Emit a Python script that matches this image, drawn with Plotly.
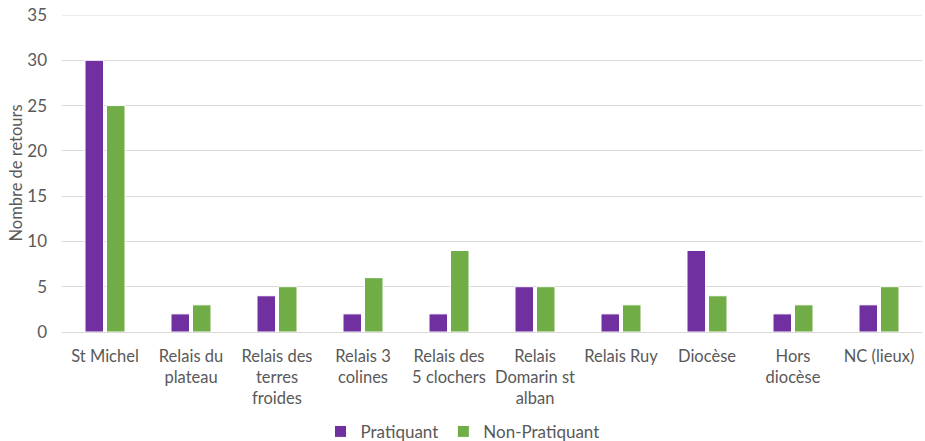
import plotly.graph_objects as go

categories = ["St Michel", "Relais du<br>plateau", "Relais des<br>terres<br>froides", "Relais 3<br>colines",
              "Relais des<br>5 clochers", "Relais<br>Domarin st<br>alban", "Relais Ruy", "Diocèse",
              "Hors<br>diocèse", "NC (lieux)"]
pratiquant = [30, 2, 4, 2, 2, 5, 2, 9, 2, 3]
non_pratiquant = [25, 3, 5, 6, 9, 5, 3, 4, 3, 5]
y_ticks = [0, 5, 10, 15, 20, 25, 30, 35]

font_family = "Lato, Open Sans, sans-serif"
grey = "#595959"
grid = "#d9d9d9"

W, H = 925, 441
L, R, T, B = 62, 3, 15, 109
plot_w = W - L - R

fig = go.Figure()
fig.add_trace(go.Bar(name="Pratiquant", x=categories, y=pratiquant,
                     marker=dict(color="#7030A0", line=dict(color="white", width=1))))
fig.add_trace(go.Bar(name="Non-Pratiquant", x=categories, y=non_pratiquant,
                     marker=dict(color="#70AD47", line=dict(color="white", width=1))))

# top gridline (Plotly omits the gridline at the range edge)
fig.add_shape(type="line", xref="paper", x0=0, x1=1, yref="y", y0=y_ticks[-1], y1=y_ticks[-1],
              line=dict(color=grid, width=1), layer="below")

fig.update_layout(
    width=W, height=H,
    margin=dict(l=L, r=R, t=T, b=B, autoexpand=False),
    paper_bgcolor="white", plot_bgcolor="white",
    barmode="group", bargap=0.5, bargroupgap=0.14,
    font=dict(family=font_family, size=16, color=grey),
    legend=dict(orientation="h", x=(W / 2 - L) / plot_w, xanchor="center", y=-0.315, yanchor="middle",
                font=dict(size=17, color=grey), itemwidth=30, traceorder="normal"),
    xaxis=dict(showgrid=False, showline=False, ticks="", tickfont=dict(size=16.5, color=grey),
               tickangle=0, automargin=False, ticklabelstandoff=12),
    yaxis=dict(range=[0, y_ticks[-1]], tickvals=y_ticks, showgrid=True, gridcolor=grid, gridwidth=1,
               zeroline=True, zerolinecolor=grid, zerolinewidth=1,
               tickfont=dict(size=17, color=grey), ticks="", ticklen=0,
               automargin=False, ticklabelstandoff=14, ticklabeloverflow="allow"),
    annotations=[dict(text="Nombre de retours", textangle=-90, xref="paper", yref="paper",
                      x=-47 / plot_w, xanchor="center", y=0.5, yanchor="middle", showarrow=False,
                      font=dict(size=16.5, color=grey))],
)

fig.write_html("out.html", config={"displayModeBar": False},
               post_script="document.body.style.margin='0';")
